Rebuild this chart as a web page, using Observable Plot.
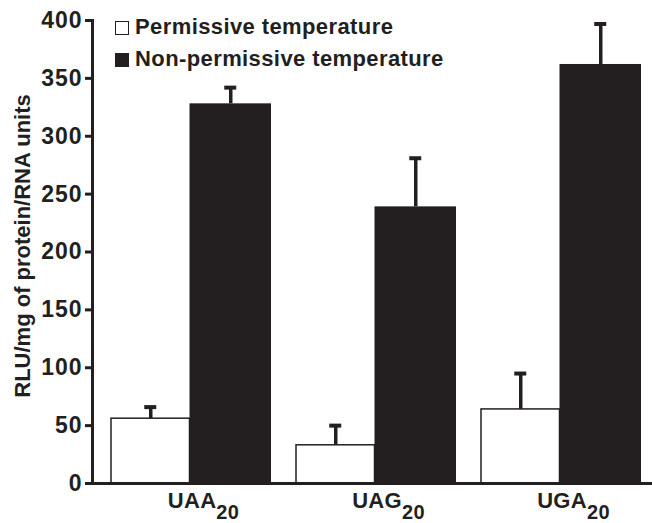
<!DOCTYPE html>
<html>
<head>
<meta charset="utf-8">
<script src="https://cdn.jsdelivr.net/npm/d3@7"></script>
<script src="https://cdn.jsdelivr.net/npm/@observablehq/plot@0.6"></script>
<style>
  html, body { margin: 0; padding: 0; background: #fff; }
  #wrap { position: relative; width: 652px; height: 523px; font-family: "Liberation Sans", Arial, Helvetica, sans-serif; color: #231f20; }
  #legend { position: absolute; left: 115px; top: 11px; font-weight: bold; font-size: 22px; letter-spacing: 0.4px; line-height: 32px; z-index: 2; }
  #legend .row { display: flex; align-items: center; white-space: nowrap; }
  #legend .sw { display: inline-block; width: 14px; height: 14px; box-sizing: border-box; margin-right: 6px; margin-top: 2px; }
  g[aria-label="y-axis tick label"] text { letter-spacing: 1px; }
  g[aria-label="x-axis tick label"] text { letter-spacing: 0.3px; }
</style>
</head>
<body>
<div id="wrap"><div id="legend"></div></div>
<script>
const ink = "#231f20";

// Data
const groups = ["UAA", "UAG", "UGA"];
const groupSubscripts = ["20", "20", "20"];
const seriesNames = ["Permissive temperature", "Non-permissive temperature"];
const permissive = [56, 33, 64];
const permissiveErr = [10, 17, 31];
const nonPermissive = [328, 239, 362];
const nonPermissiveErr = [14, 42, 35];
const yTicks = [0, 50, 100, 150, 200, 250, 300, 350, 400];
const yLabel = "RLU/mg of protein/RNA units";

const rows = groups.map((g, i) => ({
  group: g,
  perm: permissive[i],
  permTop: permissive[i] + permissiveErr[i],
  non: nonPermissive[i],
  nonTop: nonPermissive[i] + nonPermissiveErr[i]
}));

const chart = Plot.plot({
  width: 652,
  height: 523,
  marginLeft: 92,
  marginRight: 0,
  marginTop: 20,
  marginBottom: 40,
  style: {color: ink, fontFamily: "'Liberation Sans', Arial, Helvetica, sans-serif", background: "transparent"},
  x: {domain: groups, paddingInner: 0.1375, paddingOuter: 0.078, align: 0.62, axis: null},
  y: {domain: [0, 400], axis: null},
  marks: [
    Plot.barY(rows, {x: "group", y: "perm", fill: "white", stroke: ink, strokeWidth: 1.5, insetRight: 81.5}),
    Plot.barY(rows, {x: "group", y: "non", fill: ink, insetLeft: 78.5}),
    Plot.ruleX(rows, {x: "group", y1: "perm", y2: "permTop", dx: -40.75, stroke: ink, strokeWidth: 3.5}),
    Plot.tickY(rows, {x: "group", y: "permTop", insetLeft: 33.25, insetRight: 114.75, stroke: ink, strokeWidth: 4}),
    Plot.ruleX(rows, {x: "group", y1: "non", y2: "nonTop", dx: 39.25, stroke: ink, strokeWidth: 3.5}),
    Plot.tickY(rows, {x: "group", y: "nonTop", insetLeft: 113.25, insetRight: 34.75, stroke: ink, strokeWidth: 4}),
    Plot.ruleY([0], {stroke: ink, strokeWidth: 3}),
    Plot.frame({anchor: "left", stroke: ink, strokeWidth: 3}),
    Plot.axisY({ticks: yTicks, tickSize: 7, tickPadding: 3, fontSize: 23, fontWeight: "bold", strokeWidth: 3, label: null}),
    Plot.axisX({tickSize: 0, tickPadding: 9, fontSize: 22, fontWeight: "bold", label: null}),
    Plot.text([yLabel], {frameAnchor: "left", rotate: -90, dx: -70, dy: -6, fontSize: 22, fontWeight: "bold", textAnchor: "middle", fill: ink})
  ]
});

// subscripts on x tick labels
d3.select(chart).selectAll('g[aria-label="x-axis tick label"] text').each(function(d, i) {
  const t = d3.select(this);
  const base = t.text();
  const idx = groups.indexOf(base);
  const sub = groupSubscripts[idx >= 0 ? idx : i];
  t.attr("dx", 12);
  t.append("tspan").attr("dy", 11).attr("font-size", 20).text(sub);
});

const wrap = document.getElementById("wrap");
wrap.appendChild(chart);
chart.style.position = "absolute";
chart.style.left = "0px";
chart.style.top = "0px";

const legend = d3.select("#legend");
const swatchFill = ["white", ink];
seriesNames.forEach((name, i) => {
  const row = legend.append("div").attr("class", "row");
  row.append("span").attr("class", "sw")
    .style("background", swatchFill[i])
    .style("border", `1.5px solid ${ink}`);
  row.append("span").text(name);
});
</script>
</body>
</html>
